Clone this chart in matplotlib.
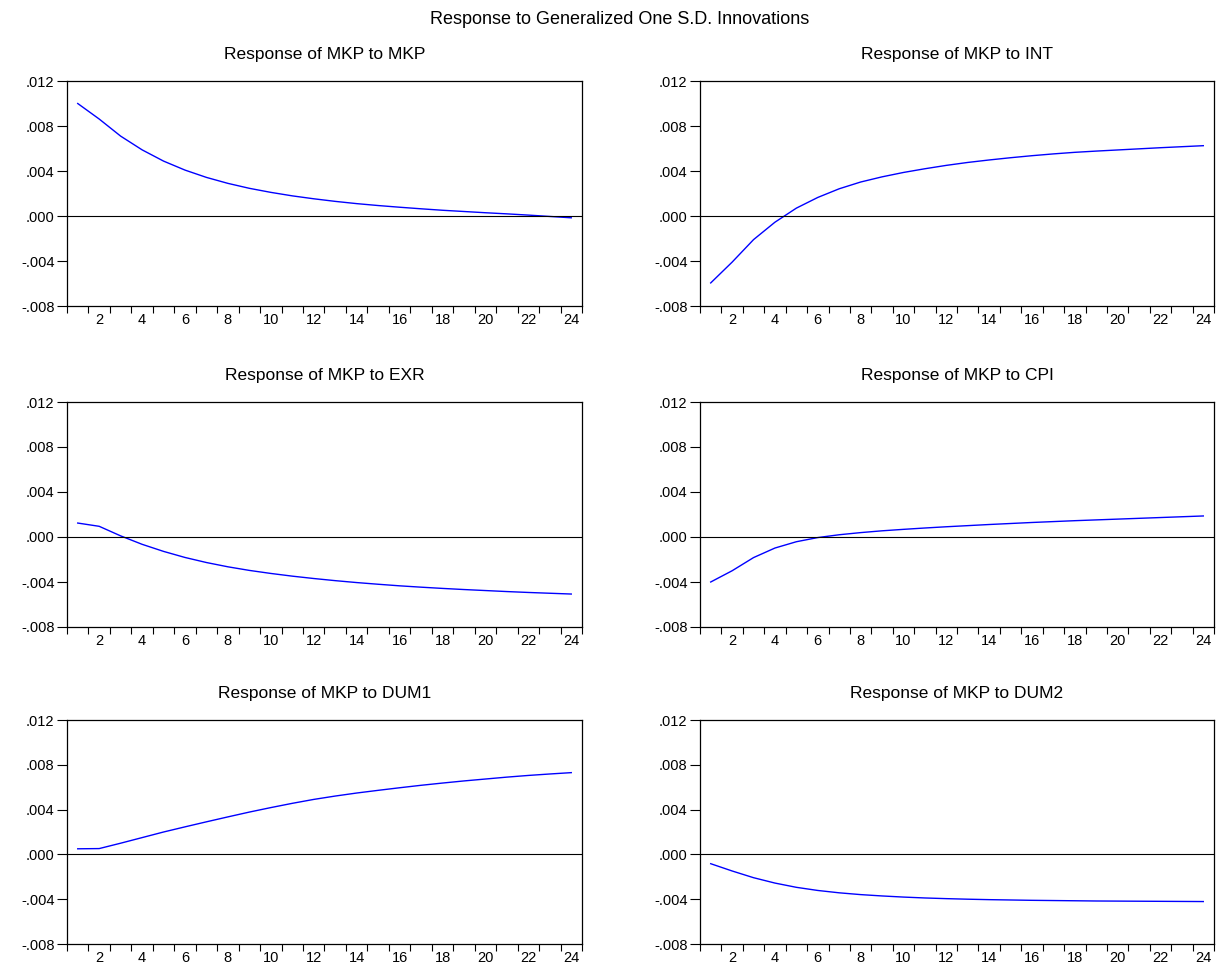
import numpy as np
import matplotlib.pyplot as plt

periods = list(range(1, 25))

titles = ["Response of MKP to MKP", "Response of MKP to INT",
          "Response of MKP to EXR", "Response of MKP to CPI",
          "Response of MKP to DUM1", "Response of MKP to DUM2"]

mkp = [0.01000, 0.00862, 0.00710, 0.00588, 0.00488, 0.00408, 0.00343, 0.00290,
       0.00246, 0.00210, 0.00179, 0.00153, 0.00130, 0.00110, 0.00093, 0.00078,
       0.00064, 0.00051, 0.00040, 0.00029, 0.00019, 0.00008, -0.00004, -0.00016]
intr = [-0.00595, -0.00410, -0.00210, -0.00055, 0.00070, 0.00165, 0.00242, 0.00302,
        0.00348, 0.00387, 0.00420, 0.00450, 0.00476, 0.00498, 0.00518, 0.00536,
        0.00552, 0.00566, 0.00577, 0.00587, 0.00597, 0.00607, 0.00616, 0.00625]
exr = [0.00124, 0.00095, 0.00010, -0.00065, -0.00128, -0.00182, -0.00227, -0.00265,
       -0.00297, -0.00324, -0.00348, -0.00369, -0.00388, -0.00405, -0.00420, -0.00434,
       -0.00446, -0.00457, -0.00467, -0.00476, -0.00485, -0.00493, -0.00500, -0.00507]
cpi = [-0.00400, -0.00300, -0.00183, -0.00098, -0.00042, -0.00005, 0.00020, 0.00039,
       0.00055, 0.00068, 0.00080, 0.00091, 0.00101, 0.00111, 0.00120, 0.00129,
       0.00137, 0.00145, 0.00152, 0.00159, 0.00166, 0.00173, 0.00180, 0.00187]
dum1 = [0.00050, 0.00052, 0.00100, 0.00150, 0.00200, 0.00246, 0.00291, 0.00335,
        0.00378, 0.00418, 0.00456, 0.00491, 0.00521, 0.00548, 0.00572, 0.00595,
        0.00617, 0.00637, 0.00656, 0.00673, 0.00690, 0.00705, 0.00718, 0.00730]
dum2 = [-0.00083, -0.00148, -0.00208, -0.00256, -0.00294, -0.00322, -0.00343, -0.00359,
        -0.00371, -0.00381, -0.00389, -0.00395, -0.00400, -0.00404, -0.00407, -0.00410,
        -0.00412, -0.00414, -0.00416, -0.00417, -0.00418, -0.00419, -0.00420, -0.00421]
series = [mkp, intr, exr, cpi, dum1, dum2]

yticks = [-0.008, -0.004, 0.000, 0.004, 0.008, 0.012]
ytick_labels = ["-.008", "-.004", ".000", ".004", ".008", ".012"]
xtick_labels = [str(p) for p in periods if p % 2 == 0]

plt.rcParams['font.family'] = ['Liberation Sans', 'DejaVu Sans']

W, H = 1218, 965
fig = plt.figure(figsize=(W / 100, H / 100), dpi=100)
fig.text(620 / W, 1 - 19 / H, "Response to Generalized One S.D. Innovations",
         ha='center', va='center', fontsize=13)

# pixel boxes (left, right, top, bottom) for each panel
cols = [(67, 582), (700, 1214)]
rows = [(81, 306), (402, 627), (720, 944)]

for i, (vals, title) in enumerate(zip(series, titles)):
    l, r = cols[i % 2]
    t, b = rows[i // 2]
    ax = fig.add_axes([l / W, 1 - b / H, (r - l) / W, (b - t) / H])
    ax.plot(periods, vals, color='#0000ff', lw=1.0)
    ax.axhline(0, color='black', lw=0.8)
    ax.set_xlim(0.5, 24.5)
    ax.set_ylim(-0.008, 0.012)
    ax.set_yticks(yticks)
    ax.set_yticklabels(ytick_labels)
    # tick marks at period boundaries, labels at even periods
    ax.set_xticks(np.arange(0.5, 25, 1.0))
    ax.set_xticklabels([])
    ax.set_xticks([p for p in periods if p % 2 == 0], minor=True)
    ax.set_xticklabels(xtick_labels, minor=True)
    ax.tick_params(axis='x', which='major', direction='out', length=5, width=0.8)
    ax.tick_params(axis='x', which='minor', length=0, pad=5, labelsize=10.5)
    ax.tick_params(axis='y', direction='out', length=7, width=0.8, labelsize=10.5, pad=2)
    for s in ax.spines.values():
        s.set_linewidth(0.9)
    ax.set_title(title, fontsize=12.5, pad=16)

fig.savefig("out.png", dpi=100)
